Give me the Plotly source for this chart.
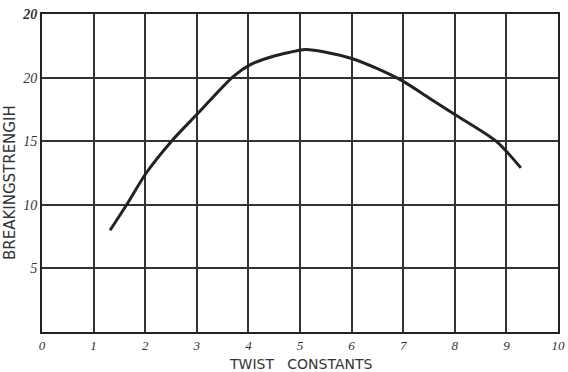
import plotly.graph_objects as go

twist = [1.32, 1.64, 2.02, 2.51, 3.0, 3.71, 4.03, 4.5, 4.81, 5.1, 5.5, 6.0, 6.5, 7.0, 7.5, 8.0, 8.8, 9.28]
strength = [8.0, 10.0, 12.5, 15.0, 17.1, 20.1, 21.0, 21.7, 22.0, 22.2, 22.0, 21.5, 20.7, 19.7, 18.4, 17.1, 15.0, 12.9]

x_ticks = [0, 1, 2, 3, 4, 5, 6, 7, 8, 9, 10]
x_ticktext = ["0", "1", "2", "3", "4", "5", "6", "7", "8", "9", "10"]
y_ticks = [0, 5, 10, 15, 20, 25]
y_ticktext = ["", "5", "10", "15", "20", "<b>20</b>"]

fig = go.Figure()
fig.add_trace(go.Scatter(
    x=twist, y=strength, mode="lines",
    line=dict(color="#222222", width=3, shape="spline", smoothing=0.8),
    hoverinfo="skip", showlegend=False,
))

axis_common = dict(
    showgrid=True, gridcolor="#333333", gridwidth=1.5,
    showline=True, linecolor="#222222", linewidth=2, mirror=True,
    zeroline=False, ticks="", automargin=False,
)

fig.update_xaxes(range=[0, 10], tickvals=x_ticks, ticktext=x_ticktext,
                 tickfont=dict(family="Liberation Serif, DejaVu Serif", size=13, color="#333333", style="italic"),
                 **axis_common)
fig.update_yaxes(range=[0, 25], tickvals=y_ticks, ticktext=y_ticktext,
                 tickfont=dict(family="Liberation Serif, DejaVu Serif", size=14, color="#333333", style="italic"),
                 **axis_common)

fig.add_annotation(x=-0.063, y=0.47, xref="paper", yref="paper", text="BREAKINGSTRENGIH",
                   textangle=-90, showarrow=False, xanchor="center", yanchor="middle",
                   font=dict(family="DejaVu Sans", size=15, color="#333333"))
fig.add_annotation(x=0.502, y=-0.068, xref="paper", yref="paper", text="TWIST&nbsp;&nbsp;&nbsp;CONSTANTS",
                   showarrow=False, xanchor="center", yanchor="top",
                   font=dict(family="DejaVu Sans", size=14, color="#333333"))

fig.update_layout(
    width=568, height=372,
    margin=dict(l=42, r=10, t=14, b=40),
    paper_bgcolor="white", plot_bgcolor="white",
)
fig.write_html("out.html", config={"displayModeBar": False},
               post_script="document.body.style.margin='0';document.body.style.overflow='hidden';")
